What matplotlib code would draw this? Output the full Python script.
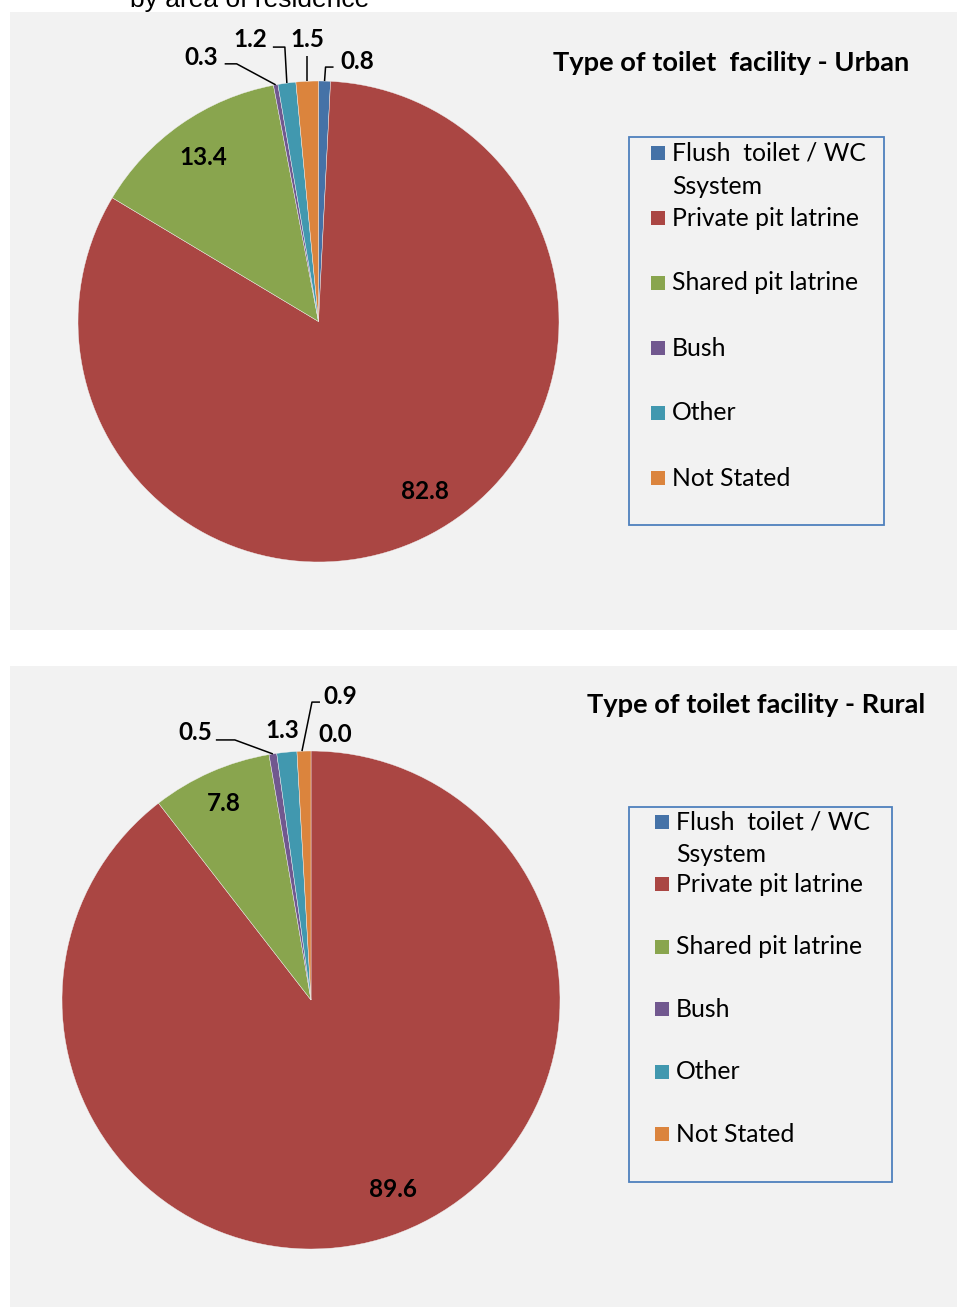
import matplotlib.pyplot as plt
import matplotlib.patches as mpatches
import numpy as np

# Figure size in pixels
W, H = 957, 1307

# Data
categories = ["Flush  toilet / WC\nSsystem", "Private pit latrine", "Shared pit latrine",
              "Bush", "Other", "Not Stated"]
urban_values = [0.8, 82.8, 13.4, 0.3, 1.2, 1.5]
rural_values = [0.0, 89.6, 7.8, 0.5, 1.3, 0.9]
colors = ['#4572A7', '#AA4643', '#89A54E', '#71588F', '#4198AF', '#DB843D']

FONT = 'Lato'
BG = '#f2f2f2'

# label offsets (px, y up) from the outer edge of each wedge, plus optional leader path
urban_labels = [
    dict(off=(33, 20), leader=[(9, 14), (1, 14), (0, 0)]),
    dict(off=(-7, 42)),
    dict(off=(22, -33)),
    dict(off=(-74, 27), leader=[(-51, 21), (-39, 21), (0, 0)]),
    dict(off=(-37, 44), leader=[(-14, 36), (-2, 36), (0, 0)]),
    dict(off=(0, 42), leader=[(0, 25), (0, 0)]),
]
rural_labels = [
    dict(off=(24, 17)),
    dict(off=(1, 46)),
    dict(off=(13, -31)),
    dict(off=(-78, 21), leader=[(-57, 14), (-38, 14), (0, 0)]),
    dict(off=(-5, 22)),
    dict(off=(36, 55), leader=[(16, 49), (8, 49), (-2, 0)]),
]

panels = [
    dict(values=urban_values, labels=urban_labels, title="Type of toilet  facility - Urban",
         rect=(10, 12, 957, 630), center=(318.5, 321.5), r=240.5, title_xy=(731, 63),
         legend_box=(629, 137, 884, 525), legend_y0=153, legend_dy=65, legend_x=651),
    dict(values=rural_values, labels=rural_labels, title="Type of toilet facility - Rural",
         rect=(10, 666, 957, 1307), center=(311, 1000), r=249, title_xy=(756, 705),
         legend_box=(629, 807, 892, 1182), legend_y0=822, legend_dy=62.4, legend_x=655),
]

fig = plt.figure(figsize=(W / 100, H / 100), dpi=100)
fig.patch.set_facecolor('white')

# Overlay axes in pixel coordinates for backgrounds, titles, legends
bg = fig.add_axes([0, 0, 1, 1])
bg.set_xlim(0, W)
bg.set_ylim(H, 0)
bg.axis('off')

# Caption from the page above, cut by the top edge as in the source
bg.text(250, 7, "by area of residence", fontsize=19, family='Liberation Sans',
        ha='center', va='baseline', color='black')

for p in panels:
    x0, y0, x1, y1 = p['rect']
    bg.add_patch(mpatches.Rectangle((x0, y0), x1 - x0, y1 - y0, facecolor=BG,
                                    edgecolor='none', zorder=0))
    bg.text(*p['title_xy'], p['title'], fontsize=19.6, fontweight='bold', family=FONT,
            ha='center', va='center')

    # Legend
    lx0, ly0, lx1, ly1 = p['legend_box']
    bg.add_patch(mpatches.Rectangle((lx0, ly0), lx1 - lx0, ly1 - ly0, facecolor='none',
                                    edgecolor='#4F81BD', linewidth=1.3, zorder=2))
    for i, (cat, col) in enumerate(zip(categories, colors)):
        yy = p['legend_y0'] + i * p['legend_dy']
        bg.add_patch(mpatches.Rectangle((p['legend_x'], yy - 7), 14, 14, facecolor=col,
                                        edgecolor='none', zorder=3))
        lines = cat.split('\n')
        for j, line in enumerate(lines):
            bg.text(p['legend_x'] + 21, yy + j * 33, line, fontsize=17.8, family=FONT,
                    ha='left', va='center')

    # Pie axes
    cx, cy = p['center']
    r = p['r']
    ax = fig.add_axes([(cx - r) / W, 1 - (cy + r) / H, 2 * r / W, 2 * r / H])
    ax.axis('off')
    ax.patch.set_alpha(0)
    wedges, _ = ax.pie(p['values'], colors=colors, startangle=90, counterclock=False,
                       radius=1, wedgeprops=dict(linewidth=0.3, edgecolor=BG))
    ax.set_xlim(-1, 1)
    ax.set_ylim(-1, 1)

    for w, v, lab in zip(wedges, p['values'], p['labels']):
        mid = np.deg2rad((w.theta1 + w.theta2) / 2)
        ex, ey = np.cos(mid), np.sin(mid)
        ox, oy = lab['off']
        ax.text(ex + ox / r, ey + oy / r, f"{v:.1f}", fontsize=17.5, fontweight='bold',
                family=FONT, ha='center', va='center', clip_on=False)
        if 'leader' in lab:
            pts = np.array(lab['leader'], dtype=float) / r
            ax.plot(ex + pts[:, 0], ey + pts[:, 1], color='black', linewidth=1.1,
                    clip_on=False, solid_capstyle='butt')

fig.savefig('out.png', dpi=100, facecolor='white')
